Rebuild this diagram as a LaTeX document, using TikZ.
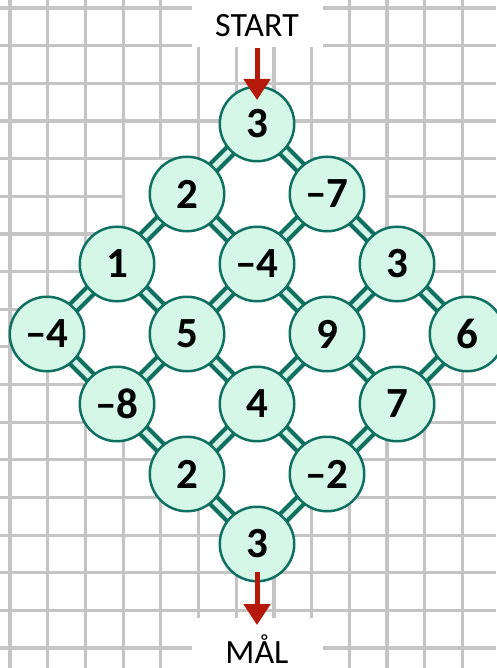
\documentclass[tikz,border=0pt]{standalone}
\usepackage{fontspec}
\setmainfont{Carlito}
\usetikzlibrary{arrows.meta}
\definecolor{railteal}{RGB}{16,112,96}
\definecolor{mint}{RGB}{212,247,232}
\definecolor{gridgray}{RGB}{196,196,196}
\definecolor{arrowred}{RGB}{180,25,10}
\pgfdeclarelayer{gridlayer}
\pgfdeclarelayer{raillayer}
\pgfsetlayers{gridlayer,raillayer,main}

\begin{document}
\begin{tikzpicture}[
  x=1pt, y=-1pt,
  font=\fontsize{43}{43}\selectfont\bfseries,
  cell/.style={circle, draw=railteal, fill=mint, line width=2.5pt, minimum size=74.5pt, inner sep=0pt},
  rail/.style={railteal, line width=14pt},
  railgap/.style={mint, line width=5.5pt},
  gline/.style={gridgray, line width=3.2pt},
  lbl/.style={font=\fontsize{34}{34}\selectfont, anchor=base, inner sep=2pt},
  arr/.style={-{Triangle[width=26pt,length=21pt]}, arrowred, line width=5pt}
]
\useasboundingbox (0,0) rectangle (496,668);

\begin{pgfonlayer}{gridlayer}
\foreach \i in {0,...,12}
  \draw[gline] ({10+37.7*\i},0) -- ({10+37.7*\i},668);
\foreach \j in {0,...,17}
  \draw[gline] (0,{8+37.65*\j}) -- (496,{8+37.65*\j});
\foreach \j/\a/\b/\t/\u in {3/5/8/1.6/1.6, 4/3/10/1.6/1.6, 5/3/10/1.6/1.6, 6/2/11/1.6/1.6,
    7/1/12/1.6/1.6, 8/0/13/1.6/-1.6, 9/1/12/-1.6/-1.6, 10/2/11/-1.6/-1.6,
    11/3/10/-1.6/-1.6, 12/4/9/-1.6/-1.6, 13/5/8/-1.6/-1.6, 14/6/7/-1.6/-1.6}
  \fill[white] ({10+37.7*\a+1.6},{8+37.65*\j+\t}) rectangle ({10+37.7*\b-1.6},{8+37.65*(\j+1)+\u});
\fill[white] (192,0) rectangle (323,47.5);
\fill[white] (192,618) rectangle (323,668);
\end{pgfonlayer}

\foreach \p/\q/\v in {0/0/3, 0/1/2, 1/0/–7, 0/2/1, 1/1/–4, 2/0/3, 0/3/–4, 1/2/5,
    2/1/9, 3/0/6, 1/3/–8, 2/2/4, 3/1/7, 2/3/2, 3/2/–2, 3/3/3}
  \node[cell] (n\p\q) at ({257+70*(\p-\q)},{124+70*(\p+\q)}) {\v};

\begin{pgfonlayer}{raillayer}
\foreach \p [evaluate=\p as \r using int(\p+1)] in {0,1,2}
  \foreach \q in {0,...,3} {
    \draw[rail] (n\p\q.center) -- (n\r\q.center);
    \draw[railgap] (n\p\q.center) -- (n\r\q.center);
    \draw[rail] (n\q\p.center) -- (n\q\r.center);
    \draw[railgap] (n\q\p.center) -- (n\q\r.center);
  }
\end{pgfonlayer}

\node[lbl] (start) at (257,36.5) {START};
\node[lbl] (goal) at (257,663) {MÅL};
\draw[arr, shorten <=9.5pt, shorten >=24pt] (start.south) -- (n00.center);
\draw[arr, shorten <=28pt, shorten >=7pt] (n33.center) -- (goal.north);
\end{tikzpicture}
\end{document}
